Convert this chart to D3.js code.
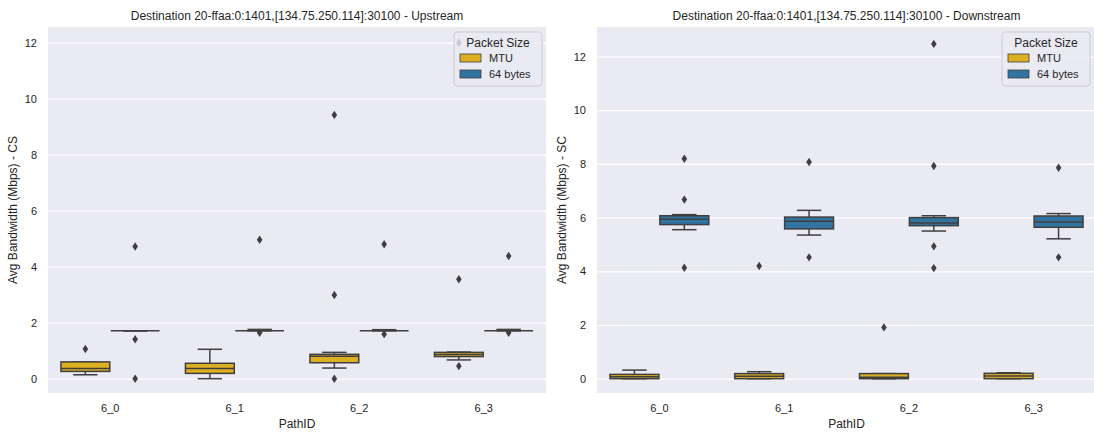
<!DOCTYPE html>
<html><head><meta charset="utf-8">
<script src="https://cdn.jsdelivr.net/npm/d3@7"></script>
<style>
html,body{margin:0;padding:0;background:#fff;}
svg text{font-family:"Liberation Sans",Arial,sans-serif;fill:#262626;}
</style></head>
<body>
<svg id="chart" width="1094" height="432"></svg>
<script>
// ---------- data ----------
const categories = ["6_0", "6_1", "6_2", "6_3"];
const hues = ["MTU", "64 bytes"];
const hueColors = ["#DDB022", "#3274A1"];
const yTicks = [0, 2, 4, 6, 8, 10, 12];

// Upstream (CS) box statistics: [whiskerLow, q1, median, q3, whiskerHigh]
const upMTU = [[0.14, 0.26, 0.36, 0.60, 0.60], [0.00, 0.19, 0.36, 0.55, 1.05], [0.38, 0.57, 0.80, 0.87, 0.94], [0.67, 0.79, 0.86, 0.94, 0.95]];
const upMTUOut = [[1.06], [], [0.0, 2.99, 9.42], [0.45, 3.55, 12.0]];
const up64 = [[1.71, 1.71, 1.71, 1.71, 1.71], [1.71, 1.71, 1.71, 1.71, 1.76], [1.71, 1.71, 1.71, 1.71, 1.75], [1.71, 1.71, 1.71, 1.71, 1.76]];
const up64Out = [[0.0, 1.41, 4.72], [1.64, 4.96], [1.59, 4.80], [1.64, 4.38]];

// Downstream (SC)
const downMTU = [[0.0, 0.0, 0.07, 0.16, 0.32], [0.0, 0.0, 0.09, 0.19, 0.26], [0.0, 0.0, 0.05, 0.19, 0.19], [0.0, 0.0, 0.10, 0.20, 0.22]];
const downMTUOut = [[], [4.2], [1.91], []];
const down64 = [[5.55, 5.74, 5.94, 6.07, 6.11], [5.35, 5.58, 5.86, 6.02, 6.27], [5.50, 5.70, 5.80, 6.00, 6.07], [5.21, 5.64, 5.84, 6.06, 6.15]];
const down64Out = [[4.13, 6.67, 8.19], [4.52, 8.07], [4.12, 4.93, 7.92, 12.47], [4.52, 7.86]];

const panels = [
  {title: "Destination 20-ffaa:0:1401,[134.75.250.114]:30100 - Upstream", ylabel: "Avg Bandwidth (Mbps) - CS",
   stats: [upMTU, up64], outs: [upMTUOut, up64Out], x0: 48, x1: 546, ydom: [-0.511, 12.56]},
  {title: "Destination 20-ffaa:0:1401,[134.75.250.114]:30100 - Downstream", ylabel: "Avg Bandwidth (Mbps) - SC",
   stats: [downMTU, down64], outs: [downMTUOut, down64Out], x0: 597, x1: 1096, ydom: [-0.533, 13.10]}
];

// ---------- drawing ----------
const svg = d3.select("#chart");
const yTop = 27, yBot = 393;
const lineC = "#3f3f3f";

panels.forEach(p => {
  const g = svg.append("g");
  const x = d3.scaleBand().domain(categories).range([p.x0, p.x1]).padding(0);
  const bw = x.bandwidth();
  const xh = d3.scaleBand().domain(hues).range([0.1 * bw, 0.9 * bw]).padding(0);
  const y = d3.scaleLinear().domain(p.ydom).range([yBot, yTop]);

  g.append("rect").attr("x", p.x0).attr("y", yTop).attr("width", p.x1 - p.x0).attr("height", yBot - yTop).attr("fill", "#EAEAF2");

  // y grid & labels
  const yAxis = d3.axisLeft(y).tickValues(yTicks).tickSize(-(p.x1 - p.x0)).tickPadding(11).tickFormat(d3.format("d"));
  const ya = g.append("g").attr("transform", `translate(${p.x0},0)`).call(yAxis);
  ya.select(".domain").remove();
  ya.selectAll(".tick line").attr("stroke", "#fff").attr("stroke-width", 1.2);
  ya.selectAll(".tick text").attr("font-size", 11).attr("fill", "#262626").attr("font-family", "Liberation Sans, Arial, sans-serif");

  // x axis labels
  const xAxis = d3.axisBottom(x).tickSize(0).tickPadding(11);
  const xa = g.append("g").attr("transform", `translate(0,${yBot})`).call(xAxis);
  xa.select(".domain").remove();
  xa.selectAll(".tick text").attr("font-size", 11).attr("fill", "#262626").attr("font-family", "Liberation Sans, Arial, sans-serif");

  // boxes
  const clip = "clip" + p.x0;
  svg.append("clipPath").attr("id", clip).append("rect").attr("x", p.x0).attr("y", yTop).attr("width", p.x1 - p.x0).attr("height", yBot - yTop);
  const gb = g.append("g").attr("clip-path", `url(#${clip})`);
  hues.forEach((h, hi) => {
    categories.forEach((c, ci) => {
      const s = p.stats[hi][ci];
      const cx = x(c) + xh(h) + xh.bandwidth() / 2;
      const w = xh.bandwidth() * 0.98;
      const cw = w * 0.5;
      const [lo, q1, med, q3, hiW] = s;
      gb.append("line").attr("x1", cx).attr("x2", cx).attr("y1", y(q3)).attr("y2", y(hiW)).attr("stroke", lineC).attr("stroke-width", 1.5);
      gb.append("line").attr("x1", cx).attr("x2", cx).attr("y1", y(q1)).attr("y2", y(lo)).attr("stroke", lineC).attr("stroke-width", 1.5);
      gb.append("line").attr("x1", cx - cw / 2).attr("x2", cx + cw / 2).attr("y1", y(hiW)).attr("y2", y(hiW)).attr("stroke", lineC).attr("stroke-width", 1.5);
      gb.append("line").attr("x1", cx - cw / 2).attr("x2", cx + cw / 2).attr("y1", y(lo)).attr("y2", y(lo)).attr("stroke", lineC).attr("stroke-width", 1.5);
      gb.append("rect").attr("x", cx - w / 2).attr("y", y(q3)).attr("width", w).attr("height", Math.max(0, y(q1) - y(q3)))
        .attr("fill", hueColors[hi]).attr("stroke", lineC).attr("stroke-width", 1.5);
      gb.append("line").attr("x1", cx - w / 2).attr("x2", cx + w / 2).attr("y1", y(med)).attr("y2", y(med)).attr("stroke", lineC).attr("stroke-width", 1.5);
      p.outs[hi][ci].forEach(v => {
        gb.append("path").attr("transform", `translate(${cx},${y(v)})`)
          .attr("d", "M0,-4.2L2.8,0L0,4.2L-2.8,0Z").attr("fill", lineC);
      });
    });
  });

  // title
  g.append("text").attr("x", (p.x0 + p.x1) / 2).attr("y", 20).attr("text-anchor", "middle").attr("font-size", 12).text(p.title);
  // x label
  g.append("text").attr("x", (p.x0 + p.x1) / 2).attr("y", 428).attr("text-anchor", "middle").attr("font-size", 12).text("PathID");
  // y label
  g.append("text").attr("transform", `translate(${p.x0 - 31},${(yTop + yBot) / 2}) rotate(-90)`).attr("text-anchor", "middle").attr("font-size", 12).text(p.ylabel);

  // legend
  const lw = 88, lh = 54;
  const lx = Math.min(p.x1, 1094) - 4 - lw, ly = yTop + 5;
  const lg = g.append("g").attr("transform", `translate(${lx},${ly})`);
  lg.append("rect").attr("width", lw).attr("height", lh).attr("rx", 3).attr("fill", "#EAEAF2").attr("fill-opacity", 0.8).attr("stroke", "#cccccc").attr("stroke-width", 1);
  lg.append("text").attr("x", lw / 2).attr("y", 15).attr("text-anchor", "middle").attr("font-size", 12).text("Packet Size");
  hues.forEach((h, i) => {
    lg.append("rect").attr("x", 6).attr("y", 22 + i * 16).attr("width", 21).attr("height", 8).attr("fill", hueColors[i]).attr("stroke", lineC).attr("stroke-width", 0.8);
    lg.append("text").attr("x", 35).attr("y", 30 + i * 16).attr("font-size", 11).text(h);
  });
});
</script>
</body></html>
